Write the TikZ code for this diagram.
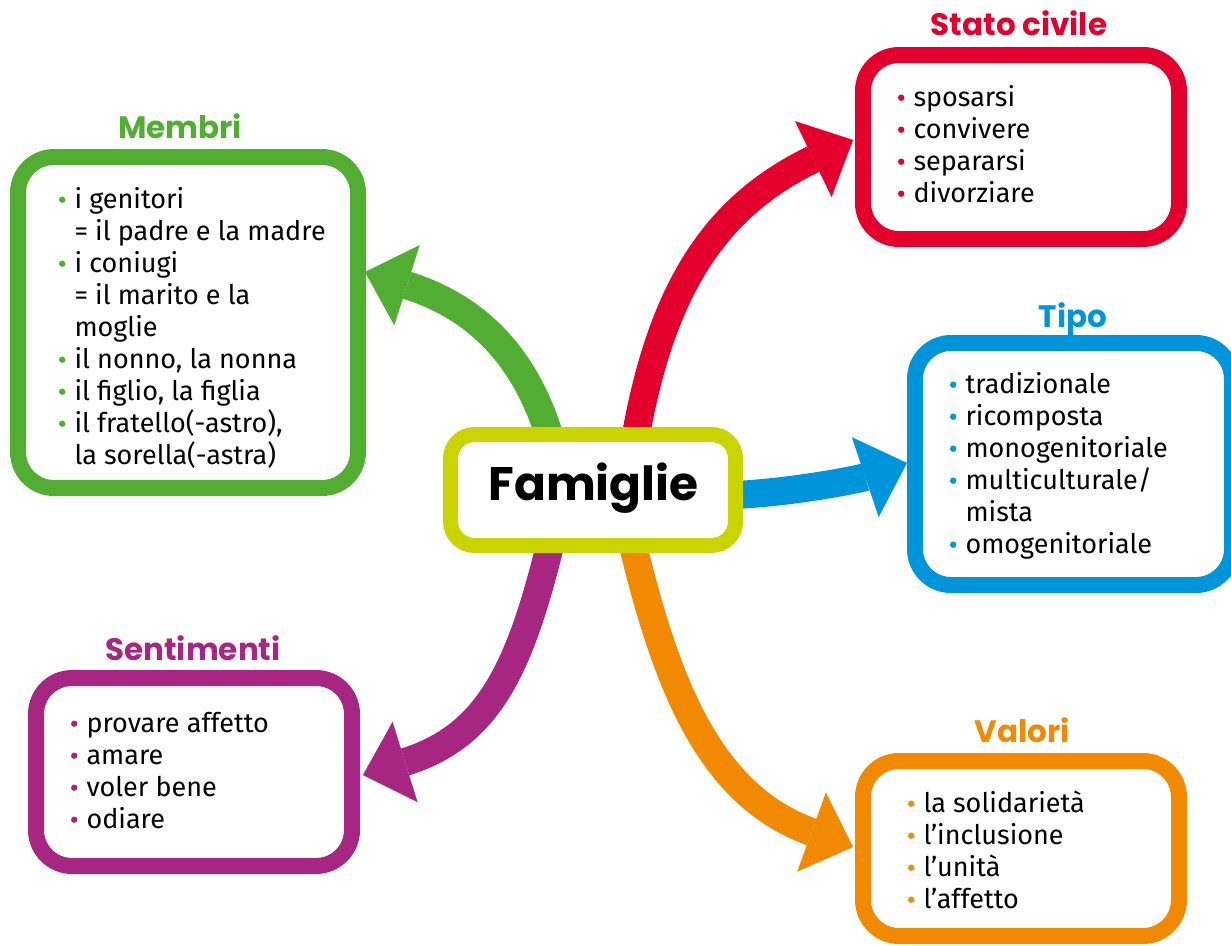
\documentclass[tikz,border=0pt]{standalone}
\usepackage{fontspec}
\setmainfont{Fira Sans}
\newfontfamily\headfont{Poppins}
\usetikzlibrary{arrows.meta,backgrounds}
\definecolor{cgreen}{HTML}{52AE32}
\definecolor{cred}{HTML}{E3002C}
\definecolor{cblue}{HTML}{0095DB}
\definecolor{cpurple}{HTML}{A62681}
\definecolor{corange}{HTML}{F18A00}
\definecolor{clime}{HTML}{C9D400}
\newcommand{\bul}[1]{\makebox[15.5pt][l]{\tikz[baseline=0pt]{\fill[#1] (3.2pt,8.5pt) circle[radius=3.2pt];}}}
\newcommand{\cont}[1]{\hspace*{15.5pt}#1}
\begin{document}
\begin{tikzpicture}[x=1pt,y=-1pt,
  box/.style={draw=#1, line width=16pt, fill=white, rounded corners=36pt, outer sep=0pt, inner sep=0pt},
  head/.style={text=#1, font=\headfont\bfseries\fontsize{31pt}{31pt}\selectfont, anchor=base, inner sep=0pt},
  list/.style={font=\fontsize{27pt}{32pt}\selectfont, align=left, anchor=north west, inner sep=0pt, text=black},
  band/.style={draw=#1, line width=28pt, -{Triangle[length=44pt,width=84pt,line width=0.1pt]}}
]
\useasboundingbox (0,0) rectangle (1231,945);

% boxes
\node[box=clime, line width=15pt, rounded corners=24pt, minimum width=285pt, minimum height=111pt] (fam) at (593,490) {};
\node[box=cgreen, minimum width=340pt, minimum height=331pt] (membri) at (188,322.5) {};
\node[box=cred, minimum width=316pt, minimum height=184pt] (stato) at (1021,147) {};
\node[box=cblue, minimum width=317pt, minimum height=242pt] (tipo) at (1073.5,464) {};
\node[box=cpurple, minimum width=316pt, minimum height=188pt] (senti) at (194,772) {};
\node[box=corange, minimum width=316pt, minimum height=175pt] (valori) at (1021,848.5) {};

% title
\node[font=\headfont\bfseries\fontsize{47pt}{47pt}\selectfont, anchor=base, inner sep=0pt] (famT) at (593.5,500) {Famiglie};

% headings
\node[head=cgreen] (membriH) at (180,138) {Membri};
\node[head=cred] (statoH) at (1019,35) {Stato civile};
\node[head=cblue] (tipoH) at (1073,327) {Tipo};
\node[head=cpurple] (sentiH) at (193,660) {Sentimenti};
\node[head=corange] (valoriH) at (1022,742) {Valori};

% lists
\node[list] (membriL) at (58.8,185.6) {\strut\bul{cgreen}i genitori\\
\cont{= il padre e la madre}\\
\bul{cgreen}i coniugi\\
\cont{= il marito e la}\\
\cont{moglie}\\
\bul{cgreen}il nonno, la nonna\\
\bul{cgreen}il figlio, la figlia\\
\bul{cgreen}il fratello(-astro),\\
\cont{la sorella(-astra)}};

\node[list] (statoL) at (897.8,83.6) {\strut\bul{cred}sposarsi\\
\bul{cred}convivere\\
\bul{cred}separarsi\\
\bul{cred}divorziare};

\node[list] (tipoL) at (949.8,370.6) {\strut\bul{cblue}tradizionale\\
\bul{cblue}ricomposta\\
\bul{cblue}monogenitoriale\\
\bul{cblue}multiculturale/\\
\cont{mista}\\
\bul{cblue}omogenitoriale};

\node[list] (sentiL) at (70.8,709.6) {\strut\bul{cpurple}provare affetto\\
\bul{cpurple}amare\\
\bul{cpurple}voler bene\\
\bul{cpurple}odiare};

\node[list] (valoriL) at (907.8,789.6) {\strut\bul{corange}la solidarietà\\
\bul{corange}l’inclusione\\
\bul{corange}l’unità\\
\bul{corange}l’affetto};

% arrows
\begin{scope}[on background layer]
\draw[band=cred] ([xshift=43pt]fam.north) .. controls +(27,-150) and +(-135,65) .. ([xshift=-10pt,yshift=7pt]stato.west);
\draw[band=cgreen] ([xshift=-44pt]fam.north) .. controls +(-30,-95) and +(95,30) .. ([xshift=7pt,yshift=50.5pt]membri.east);
\draw[band=cpurple] ([xshift=-43pt]fam.south) .. controls +(-31,126) and +(124,-38.5) .. ([xshift=11pt,yshift=-3pt]senti.east);
\draw[band=corange] ([xshift=40pt]fam.south) .. controls +(35,145) and +(-141,-51) .. ([xshift=-10pt,yshift=1.5pt]valori.west);
\draw[band=cblue] ([yshift=-5pt]fam.east) .. controls +(60,-3) and +(-47.5,16) .. ([xshift=-8pt,yshift=1pt]tipo.west);
\end{scope}
\end{tikzpicture}
\end{document}
